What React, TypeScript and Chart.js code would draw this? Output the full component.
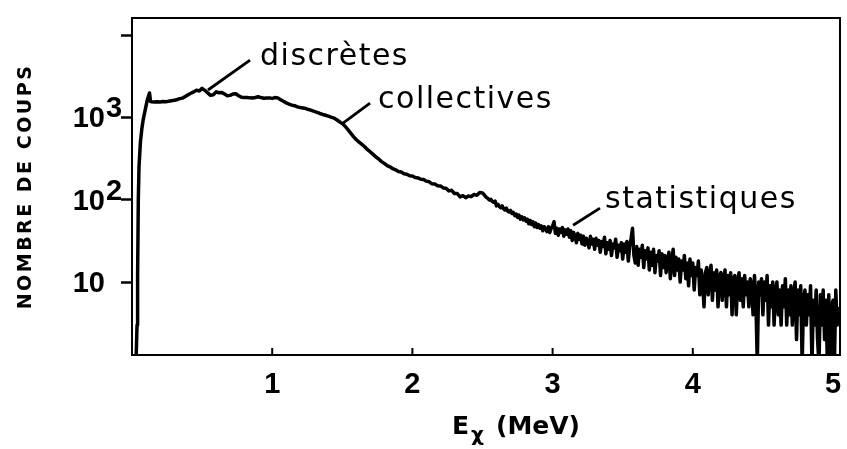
import React, { useEffect, useRef } from 'react';
import { Chart, registerables } from 'chart.js';

Chart.register(...registerables);

// ---------- data (energy in MeV, counts) ----------
const riseEnergies = [0.0, 0.02, 0.03, 0.036, 0.04, 0.045, 0.05, 0.06, 0.07, 0.08, 0.095, 0.11, 0.125, 0.132];
const riseCounts = [1, 1, 1.3, 3, 12, 100, 250, 500, 720, 940, 1250, 1650, 1980, 1560];

const smoothEnergies = [
  0.14, 0.16, 0.18, 0.2, 0.22, 0.24, 0.26, 0.28, 0.3, 0.32, 0.34, 0.36, 0.38, 0.4, 0.42, 0.44, 0.46, 0.48,
  0.5, 0.52, 0.54, 0.56, 0.58, 0.6, 0.62, 0.64, 0.66, 0.68, 0.7, 0.72, 0.74, 0.76, 0.78, 0.8, 0.82, 0.84,
  0.86, 0.88, 0.9, 0.92, 0.94, 0.96, 0.98, 1.0, 1.02, 1.04, 1.06, 1.08, 1.1, 1.12, 1.14, 1.16, 1.18, 1.2,
  1.22, 1.24, 1.26, 1.28, 1.3, 1.32, 1.34, 1.36, 1.38, 1.4, 1.42, 1.44, 1.46, 1.48, 1.5, 1.52, 1.54, 1.56,
  1.58, 1.6, 1.62, 1.64, 1.66, 1.68, 1.7, 1.72, 1.74, 1.76, 1.78, 1.8, 1.82, 1.84, 1.86, 1.88, 1.9, 1.92,
  1.94, 1.96, 1.98, 2.0, 2.02, 2.04, 2.06, 2.08, 2.1, 2.12, 2.14, 2.16, 2.18, 2.2, 2.22,
  2.24, 2.26, 2.28, 2.3, 2.32, 2.34, 2.36, 2.38, 2.4, 2.42, 2.44, 2.46, 2.48,
];
const smoothCounts = [
  1550, 1535, 1552, 1540, 1556, 1546, 1566, 1590, 1612, 1640, 1690, 1712, 1790, 1880, 1960, 2040, 2140, 2090,
  2250, 2130, 1980, 1850, 1880, 2040, 1990, 2010, 1920, 1830, 1850, 1920, 1940, 1830, 1760, 1745, 1740, 1725,
  1720, 1745, 1780, 1740, 1705, 1715, 1725, 1700, 1740, 1725, 1640, 1570, 1500, 1450, 1410, 1385, 1340, 1315,
  1300, 1280, 1245, 1215, 1180, 1150, 1115, 1085, 1060, 1035, 1005, 980, 935, 885, 840, 780, 710, 645,
  585, 535, 500, 470, 440, 405, 380, 355, 330, 312, 290, 276, 260, 251, 238, 231, 220, 217,
  207, 204, 196, 194, 186, 184, 177, 176, 168, 165, 156, 155, 148, 147, 139,
  138, 128, 130, 119, 119, 108, 112, 106, 111, 109, 116, 113, 122,
];

const noisyEnergies = [
  2.5, 2.51, 2.52, 2.53, 2.54, 2.55, 2.56, 2.57, 2.58, 2.59,
  2.6, 2.61, 2.62, 2.63, 2.64, 2.65, 2.66, 2.67, 2.68, 2.69,
  2.7, 2.71, 2.72, 2.73, 2.74, 2.75, 2.76, 2.77, 2.78, 2.79,
  2.8, 2.81, 2.82, 2.83, 2.84, 2.85, 2.86, 2.87, 2.88, 2.89,
  2.9, 2.91, 2.92, 2.93, 2.94, 2.95, 2.96, 2.97, 2.98, 2.99,
  3.0, 3.01, 3.02, 3.03, 3.04, 3.05, 3.06, 3.07, 3.08, 3.09,
  3.1, 3.11, 3.12, 3.13, 3.14, 3.15, 3.16, 3.17, 3.18, 3.19,
  3.2, 3.21, 3.22, 3.23, 3.24, 3.25, 3.26, 3.27, 3.28, 3.29,
  3.3, 3.31, 3.32, 3.33, 3.34, 3.35, 3.36, 3.37, 3.38, 3.39,
  3.4, 3.41, 3.42, 3.43, 3.44, 3.45, 3.46, 3.47, 3.48, 3.49,
  3.5, 3.51, 3.52, 3.53, 3.54, 3.55, 3.56, 3.57, 3.58, 3.59,
  3.6, 3.61, 3.62, 3.63, 3.64, 3.65, 3.66, 3.67, 3.68, 3.69,
  3.7, 3.71, 3.72, 3.73, 3.74, 3.75, 3.76, 3.77, 3.78, 3.79,
  3.8, 3.81, 3.82, 3.83, 3.84, 3.85, 3.86, 3.87, 3.88, 3.89,
  3.9, 3.91, 3.92, 3.93, 3.94, 3.95, 3.96, 3.97, 3.98, 3.99,
  4.0, 4.01, 4.02, 4.03, 4.04, 4.05, 4.06, 4.07, 4.08, 4.09,
  4.1, 4.11, 4.12, 4.13, 4.14, 4.15, 4.16, 4.17, 4.18, 4.19,
  4.2, 4.21, 4.22, 4.23, 4.24, 4.25, 4.26, 4.27, 4.28, 4.29,
  4.3, 4.31, 4.32, 4.33, 4.34, 4.35, 4.36, 4.37, 4.38, 4.39,
  4.4, 4.41, 4.42, 4.43, 4.44, 4.45, 4.46, 4.47, 4.48, 4.49,
  4.5, 4.51, 4.52, 4.53, 4.54, 4.55, 4.56, 4.57, 4.58, 4.59,
  4.6, 4.61, 4.62, 4.63, 4.64, 4.65, 4.66, 4.67, 4.68, 4.69,
  4.7, 4.71, 4.72, 4.73, 4.74, 4.75, 4.76, 4.77, 4.78, 4.79,
  4.8, 4.81, 4.82, 4.83, 4.84, 4.85, 4.86, 4.87, 4.88, 4.89,
  4.9, 4.91, 4.92, 4.93, 4.94, 4.95, 4.96, 4.97, 4.98, 4.99,
  5.0, 5.01, 5.02, 5.03, 5.04,
];
const noisyCounts = [
  121, 116, 110, 106, 103, 99, 101, 95, 93, 96,
  84, 88, 83, 80, 84, 78, 75, 79, 73, 71,
  74, 68, 70, 64, 67, 61, 65, 58, 62, 57,
  60, 55, 58, 51, 56, 50, 54, 47, 52, 46,
  50, 45, 48, 42, 47, 44, 41, 47, 40, 45,
  48, 54, 39, 45, 37, 44, 40, 46, 36, 43,
  38, 44, 35, 42, 32, 40, 36, 30, 39, 33,
  37, 29, 36, 28, 34, 31, 26, 36, 29, 33,
  25, 34, 28, 32, 23, 31, 27, 35, 22, 30,
  25, 32, 21, 29, 26, 33, 20, 28, 24, 30,
  19, 29, 23, 31, 18, 27, 34, 45, 21, 17,
  27, 16, 25, 20, 28, 15, 24, 19, 26, 14,
  23, 16, 25, 13, 21, 18, 24, 12, 22, 15,
  21, 13, 19, 23, 11, 18, 25, 12, 20, 14,
  19, 10, 18, 14, 21, 11, 17, 9, 19, 12,
  17, 8, 15, 12, 18, 7, 14, 10, 5, 13,
  15, 7, 12, 16, 6, 13, 8, 14, 5, 12,
  13, 6, 11, 14, 5, 12, 7, 13, 4, 11,
  12, 4, 10, 13, 6, 11, 5, 12, 7, 10,
  5, 11, 9, 4, 12, 6, 1, 10, 7, 11,
  4, 10, 6, 12, 3, 9, 5, 10, 3, 8,
  10, 4, 8, 3, 9, 5, 11, 3, 8, 4,
  9, 3, 7, 10, 2, 8, 4, 9, 1, 6,
  8, 3, 7, 4, 9, 1, 6, 3, 8, 2,
  1, 7, 3, 8, 2, 6, 1, 7, 1, 5,
  6, 1, 8, 3, 5,
];

const energies = [...riseEnergies, ...smoothEnergies, ...noisyEnergies];
const counts = [...riseCounts, ...smoothCounts, ...noisyCounts];

// ---------- axes ----------
const xTickValues = [1, 2, 3, 4, 5];
const yTickValues = [10, 100, 1000, 10000];
const yTickBases = ['10', '10', '10', ''];
const yTickExponents = ['', '2', '3', ''];

const yTitle = 'NOMBRE DE COUPS';
const xTitleMain = 'E';
const xTitleSub = 'χ';
const xTitleUnit = '(MeV)';

// ---------- annotations (data coordinates) ----------
const annotationLabels = ['discrètes', 'collectives', 'statistiques'];
const annotationTextEnergy = [0.913, 1.755, 3.374];
const annotationTextCount = [4330, 1297, 79];
const leaderFromEnergy = [0.842, 1.698, 3.338];
const leaderFromCount = [4970, 1493, 79];
const leaderToEnergy = [0.542, 1.505, 3.146];
const leaderToCount = [2150, 853, 49];

const decorPlugin = {
  id: 'decor',
  afterDraw(chart: any) {
    const { ctx, chartArea: a, scales } = chart;
    const x = scales.x;
    const y = scales.y;
    ctx.save();
    ctx.strokeStyle = '#000';
    ctx.fillStyle = '#000';
    ctx.lineCap = 'butt';

    // frame top & right
    ctx.lineWidth = 2;
    ctx.beginPath();
    ctx.moveTo(a.left - 1, a.top);
    ctx.lineTo(a.right, a.top);
    ctx.lineTo(a.right, a.bottom + 1);
    ctx.stroke();

    // inward x tick marks
    xTickValues.forEach((v) => {
      const px = x.getPixelForValue(v);
      if (px < a.right - 4) {
        ctx.beginPath();
        ctx.moveTo(px, a.bottom);
        ctx.lineTo(px, a.bottom - 7);
        ctx.stroke();
      }
    });

    // x tick labels
    ctx.font = 'bold 29px "Liberation Sans", Arial, sans-serif';
    ctx.textAlign = 'center';
    ctx.textBaseline = 'alphabetic';
    xTickValues.forEach((v) => {
      ctx.fillText(String(v), x.getPixelForValue(v), a.bottom + 38);
    });

    // y tick labels with raised exponents
    yTickValues.forEach((v, i) => {
      if (!yTickBases[i]) return;
      const py = y.getPixelForValue(v);
      ctx.textAlign = 'right';
      ctx.fillText(yTickBases[i], a.left - 27, py + 10);
      if (yTickExponents[i]) {
        ctx.textAlign = 'left';
        ctx.fillText(yTickExponents[i], a.left - 26, py);
      }
    });

    // y title
    ctx.save();
    ctx.translate(26, (a.top + a.bottom) / 2);
    ctx.rotate(-Math.PI / 2);
    ctx.font = 'bold 19px "DejaVu Sans", sans-serif';
    (ctx as any).letterSpacing = '2.5px';
    ctx.textAlign = 'center';
    ctx.textBaseline = 'middle';
    ctx.fillText(yTitle, 0, 0);
    ctx.restore();

    // x title
    ctx.textAlign = 'left';
    ctx.textBaseline = 'alphabetic';
    ctx.font = 'bold 25px "DejaVu Sans", sans-serif';
    ctx.fillText(xTitleMain, 452, 434);
    ctx.font = 'bold 20px "DejaVu Sans", sans-serif';
    ctx.fillText(xTitleSub, 471, 441);
    ctx.font = 'bold 25px "DejaVu Sans", sans-serif';
    ctx.fillText(xTitleUnit, 496, 434);

    // annotations
    ctx.lineWidth = 2.8;
    ctx.font = '30px "DejaVu Sans", sans-serif';
    (ctx as any).letterSpacing = '1.5px';
    annotationLabels.forEach((label, i) => {
      ctx.beginPath();
      ctx.moveTo(x.getPixelForValue(leaderFromEnergy[i]), y.getPixelForValue(leaderFromCount[i]));
      ctx.lineTo(x.getPixelForValue(leaderToEnergy[i]), y.getPixelForValue(leaderToCount[i]));
      ctx.stroke();
      ctx.fillText(label, x.getPixelForValue(annotationTextEnergy[i]), y.getPixelForValue(annotationTextCount[i]));
    });
    (ctx as any).letterSpacing = '0px';
    ctx.restore();
  },
};

export default function App() {
  const canvasRef = useRef<HTMLCanvasElement | null>(null);

  useEffect(() => {
    document.body.style.margin = '0';
    const canvas = canvasRef.current;
    if (!canvas) return;
    const chart = new Chart(canvas, {
      type: 'line',
      data: {
        datasets: [
          {
            label: 'spectre',
            data: energies.map((e, i) => ({ x: e, y: counts[i] })),
            borderColor: '#000',
            borderWidth: 3.5,
            pointRadius: 0,
            tension: 0,
            fill: false,
            borderJoinStyle: 'round',
          },
        ],
      },
      options: {
        animation: false,
        responsive: false,
        maintainAspectRatio: false,
        events: [],
        layout: { padding: { top: 18, right: 7, left: 0, bottom: 0 } },
        plugins: { legend: { display: false }, tooltip: { enabled: false } },
        scales: {
          x: {
            type: 'linear',
            min: 0,
            max: 5.05,
            afterBuildTicks: (s: any) => {
              s.ticks = xTickValues.map((v) => ({ value: v }));
            },
            afterFit: (s: any) => {
              s.height = 94;
            },
            ticks: { display: false },
            grid: { display: false },
            border: { display: true, color: '#000', width: 2 },
          },
          y: {
            type: 'logarithmic',
            min: 1.3,
            max: 16100,
            afterBuildTicks: (s: any) => {
              s.ticks = yTickValues.map((v) => ({ value: v }));
            },
            afterFit: (s: any) => {
              s.width = 132;
            },
            ticks: { display: false },
            grid: {
              display: true,
              drawOnChartArea: false,
              drawTicks: true,
              tickLength: 11,
              tickWidth: 2.5,
              tickColor: '#000',
            },
            border: { display: true, color: '#000', width: 2 },
          },
        },
      },
      plugins: [decorPlugin],
    } as any);
    return () => chart.destroy();
  }, []);

  return (
    <div style={{ width: 847, height: 449 }}>
      <canvas ref={canvasRef} width={847} height={449} style={{ display: 'block' }} />
    </div>
  );
}
